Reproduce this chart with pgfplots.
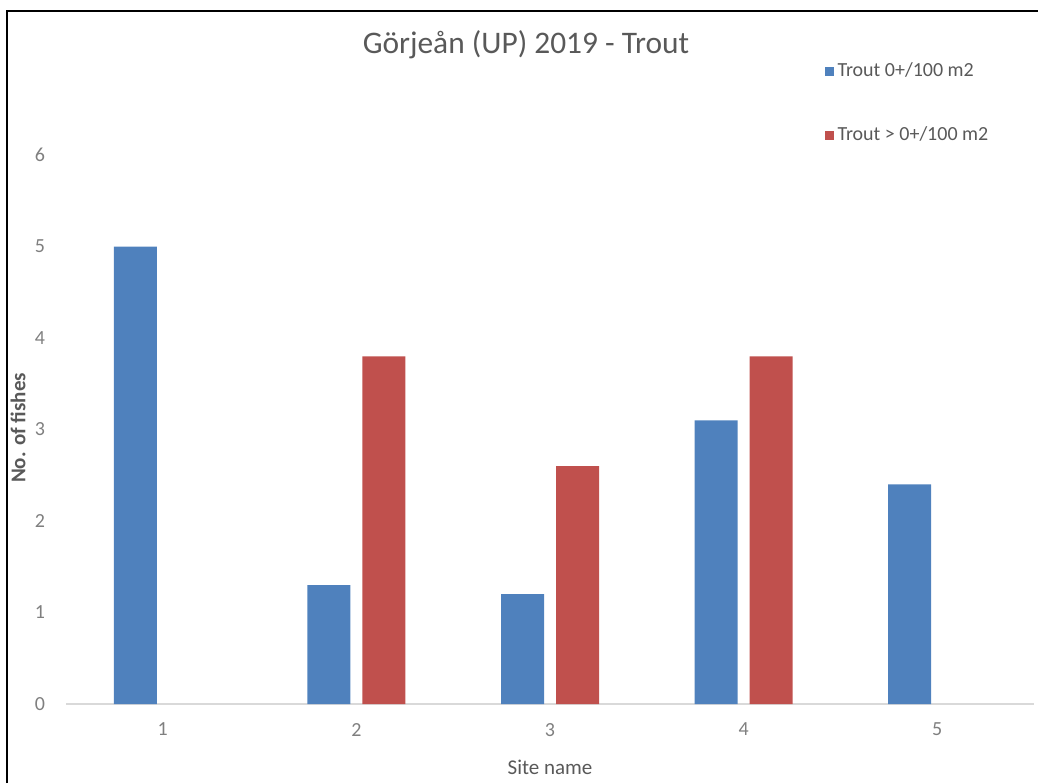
\documentclass[border=0pt]{standalone}
\usepackage{pgfplots}
\pgfplotsset{compat=1.18}
\usepackage{fontspec}
\setmainfont{Carlito}
\definecolor{barblue}{HTML}{4F81BD}
\definecolor{barred}{HTML}{C0504D}
\definecolor{txt}{HTML}{595959}
\definecolor{ticktxt}{HTML}{7F7F7F}
\definecolor{baseline}{HTML}{D9D9D9}

\begin{document}
\begin{tikzpicture}[x=0.5pt,y=0.5pt]
\useasboundingbox (0,0) rectangle (1038,783);
% frame
\draw[line width=1pt] (7,0) -- (7,772) -- (1038,772);
\begin{axis}[
  at={(33pt,39.5pt)}, anchor=south west,
  width=484pt, height=274.5pt, scale only axis,
  xmin=0.5, xmax=5.5, ymin=0, ymax=6,
  ybar=6pt, bar width=21.5pt,
  axis line style={draw=none},
  major tick length=0pt,
  xtick={1,2,3,4,5}, ytick={0,1,2,3,4,5,6},
  tick label style={font=\fontsize{10}{12}\selectfont, text=ticktxt},
  /pgf/number format/assume math mode=true,
  xticklabel style={yshift=-6pt},
  yticklabel style={xshift=-7pt},
  legend style={at={(0.777,1.183)}, anchor=north west, draw=none, fill=none,
    font=\fontsize{10}{12}\selectfont, text=txt, row sep=19.5pt},
  legend cell align=left,
  clip=false,
]
\draw[color=baseline, line width=0.8pt] (axis cs:0.5,0) -- (axis cs:5.5,0);
\addplot[fill=barblue, draw=none,
  legend image code/.code={\fill[barblue] (0pt,-2.3pt) rectangle (4.5pt,2.3pt);}]
  coordinates {(1,5.0) (2,1.3) (3,1.2) (4,3.1) (5,2.4)};
\addlegendentry{Trout 0+/100 m2}
\addplot[fill=barred, draw=none,
  legend image code/.code={\fill[barred] (0pt,-2.3pt) rectangle (4.5pt,2.3pt);}]
  coordinates {(2,3.8) (3,2.6) (4,3.8)};
\addlegendentry{Trout > 0+/100 m2}
\end{axis}
\node[font=\fontsize{15.7}{18}\selectfont, text=txt] at (526,738) {Görjeån (UP) 2019 - Trout};
\node[font=\fontsize{10.5}{12}\selectfont, text=txt] at (550,16) {Site name};
\node[font=\bfseries\fontsize{10.5}{12}\selectfont, text=txt, rotate=90] at (18,355) {No. of fishes};
\end{tikzpicture}
\end{document}
